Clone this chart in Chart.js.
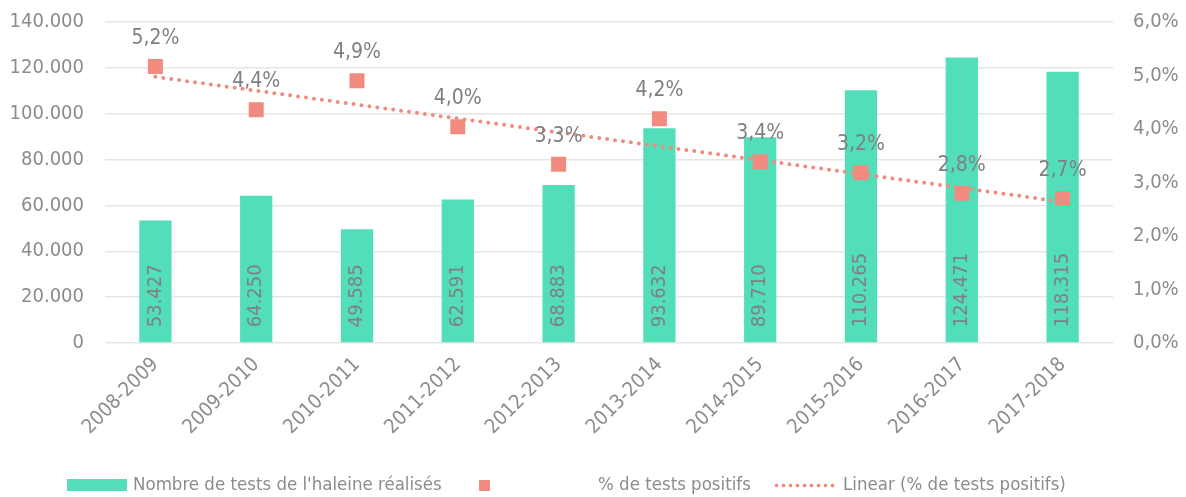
<!DOCTYPE html>
<html>
<head>
<meta charset="utf-8">
<script src="https://cdn.jsdelivr.net/npm/chart.js@4/dist/chart.umd.min.js"></script>
<style>
  html, body { margin: 0; padding: 0; background: #fff; }
  #wrap { position: relative; width: 1186px; height: 497px; }
  #legend { position: absolute; left: 0; top: 0; width: 1186px; height: 497px; pointer-events: none;
            font-family: 'DejaVu Sans Condensed', 'DejaVu Sans', sans-serif; font-size: 18.5px; color: #8c8c8c; }
  #legend .sw, #legend .tx { position: absolute; }
  #legend .tx { top: 473px; line-height: 22px; white-space: nowrap; }
</style>
</head>
<body>
<div id="wrap">
  <canvas id="chart-tests" width="1186" height="497"></canvas>
  <div id="legend">
    <div class="sw" style="left:67px;top:479px;width:60px;height:12px;background:#52deb9"></div>
    <div class="tx" style="left:133px">Nombre de tests de l'haleine réalisés</div>
    <div class="sw" style="left:479px;top:480px;width:11px;height:11px;background:#f28b7f"></div>
    <div class="tx" style="left:598px">% de tests positifs</div>
    <div class="sw" style="left:773px;top:483px;width:64px;height:5px;background-image:radial-gradient(circle, #f28b7f 1.6px, transparent 2.2px);background-size:7px 5px"></div>
    <div class="tx" style="left:843px">Linear (% de tests positifs)</div>
  </div>
</div>
<script>
// Données
const saisons = ['2008-2009', '2009-2010', '2010-2011', '2011-2012', '2012-2013',
                 '2013-2014', '2014-2015', '2015-2016', '2016-2017', '2017-2018'];
const testsRealises = [53427, 64250, 49585, 62591, 68883, 93632, 89710, 110265, 124471, 118315];
const pctPositifs = [5.17, 4.36, 4.90, 4.04, 3.34, 4.19, 3.39, 3.18, 2.80, 2.70];
const ticksGauche = [0, 20000, 40000, 60000, 80000, 100000, 120000, 140000];
const ticksDroite = [0, 1, 2, 3, 4, 5, 6];

document.addEventListener('DOMContentLoaded', () => {
    const colorGreen = '#52deb9';
    const colorSalmon = '#f28b7f';
    const colorText = '#8c8c8c';
    const colorLabel = '#808080';
    const fontFamily = "'DejaVu Sans Condensed', 'DejaVu Sans', sans-serif";

    const formatMilliers = (v) => String(v).replace(/\B(?=(\d{3})+(?!\d))/g, '.');
    const formatPct = (v) => v.toFixed(1).replace('.', ',') + '%';

    // Tendance linéaire (moindres carrés sur les % positifs)
    const n = pctPositifs.length;
    const mx = (n - 1) / 2;
    const my = pctPositifs.reduce((a, b) => a + b, 0) / n;
    let sxy = 0, sxx = 0;
    pctPositifs.forEach((y, i) => { sxy += (i - mx) * (y - my); sxx += (i - mx) * (i - mx); });
    const pente = sxy / sxx;
    const tendance = pctPositifs.map((_, i) => my + pente * (i - mx));

    // Étiquettes de valeurs (barres + pourcentages)
    const valueLabels = {
        id: 'valueLabels',
        afterDatasetsDraw(chart) {
            const ctx = chart.ctx;
            ctx.save();
            ctx.font = '20px ' + fontFamily;
            ctx.fillStyle = colorLabel;
            chart.getDatasetMeta(2).data.forEach((bar, i) => {
                ctx.save();
                ctx.translate(bar.x, bar.base - 15);
                ctx.rotate(-Math.PI / 2);
                ctx.textAlign = 'left';
                ctx.textBaseline = 'middle';
                ctx.fillText(formatMilliers(testsRealises[i]), 0, 0);
                ctx.restore();
            });
            ctx.font = '21px ' + fontFamily;
            ctx.textAlign = 'center';
            ctx.textBaseline = 'middle';
            chart.getDatasetMeta(0).data.forEach((pt, i) => {
                ctx.fillText(formatPct(pctPositifs[i]), pt.x, pt.y - 28);
            });
            ctx.restore();
        }
    };

    // Largeur fixe des axes verticaux, sans marge haute/basse ajoutée
    const fixAxe = (largeur) => (scale) => {
        scale.width = largeur;
        scale.paddingTop = 0;
        scale.paddingBottom = 0;
    };

    const ctxTests = document.getElementById('chart-tests');
    new Chart(ctxTests, {
        type: 'bar',
        data: {
            labels: saisons,
            datasets: [
                {
                    type: 'line',
                    label: '% de tests positifs',
                    data: pctPositifs,
                    yAxisID: 'y1',
                    showLine: false,
                    pointStyle: 'rect',
                    pointRadius: 10.6,
                    pointBorderWidth: 0,
                    pointBackgroundColor: colorSalmon,
                    order: 1
                },
                {
                    type: 'line',
                    label: 'Linear (% de tests positifs)',
                    data: tendance,
                    yAxisID: 'y1',
                    borderColor: colorSalmon,
                    borderWidth: 4,
                    borderDash: [0, 8],
                    borderCapStyle: 'round',
                    pointRadius: 0,
                    tension: 0,
                    order: 2
                },
                {
                    label: "Nombre de tests de l'haleine réalisés",
                    data: testsRealises,
                    yAxisID: 'y',
                    backgroundColor: colorGreen,
                    barPercentage: 0.32,
                    categoryPercentage: 1,
                    order: 3
                }
            ]
        },
        options: {
            responsive: false,
            animation: false,
            layout: { padding: { top: 22, left: 0, right: 0, bottom: 0 } },
            plugins: {
                legend: { display: false },
                tooltip: { enabled: false }
            },
            scales: {
                x: {
                    offset: true,
                    grid: { display: false },
                    border: { display: false },
                    ticks: {
                        color: colorText,
                        font: { family: fontFamily, size: 20 },
                        minRotation: 45,
                        maxRotation: 45,
                        padding: 2
                    },
                    afterFit: (scale) => { scale.height = 154; }
                },
                y: {
                    position: 'left',
                    min: 0,
                    max: 140000,
                    afterBuildTicks: (scale) => { scale.ticks = ticksGauche.map(v => ({ value: v })); },
                    grid: { color: '#e6e6e6', lineWidth: 1.5, drawTicks: false },
                    border: { display: false },
                    ticks: {
                        color: colorText,
                        font: { family: fontFamily, size: 20 },
                        padding: 21,
                        callback: (v) => formatMilliers(v)
                    },
                    afterFit: fixAxe(105)
                },
                y1: {
                    position: 'right',
                    min: 0,
                    max: 6,
                    afterBuildTicks: (scale) => { scale.ticks = ticksDroite.map(v => ({ value: v })); },
                    grid: { display: false, drawTicks: false },
                    border: { display: false },
                    ticks: {
                        color: colorText,
                        font: { family: fontFamily, size: 20 },
                        padding: 20,
                        callback: (v) => formatPct(v)
                    },
                    afterFit: fixAxe(73)
                }
            }
        },
        plugins: [valueLabels]
    });
});
</script>
</body>
</html>
